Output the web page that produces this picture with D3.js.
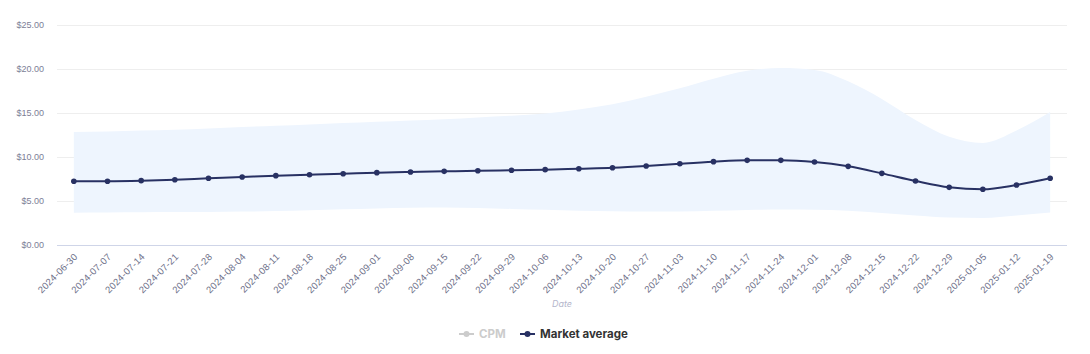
<!DOCTYPE html>
<html>
<head>
<meta charset="utf-8">
<script src="https://cdn.jsdelivr.net/npm/d3@7"></script>
<style>
  body { margin: 0; background: #fff; }
  svg { font-family: Inter, "Open Sans", sans-serif; display: block; }
</style>
</head>
<body>
<svg id="chart" width="1090" height="354"></svg>
<script>
// weekly dates
const dates = ["2024-06-30", "2024-07-07", "2024-07-14", "2024-07-21", "2024-07-28",
  "2024-08-04", "2024-08-11", "2024-08-18", "2024-08-25", "2024-09-01", "2024-09-08",
  "2024-09-15", "2024-09-22", "2024-09-29", "2024-10-06", "2024-10-13", "2024-10-20",
  "2024-10-27", "2024-11-03", "2024-11-10", "2024-11-17", "2024-11-24", "2024-12-01",
  "2024-12-08", "2024-12-15", "2024-12-22", "2024-12-29", "2025-01-05", "2025-01-12",
  "2025-01-19"];
const marketAvg = [7.24, 7.25, 7.31, 7.42, 7.58, 7.73, 7.88, 7.99, 8.1, 8.22, 8.3,
  8.37, 8.44, 8.49, 8.56, 8.67, 8.78, 8.98, 9.24, 9.47, 9.62, 9.62, 9.43, 8.94, 8.14,
  7.27, 6.55, 6.33, 6.82, 7.58];
const rangeLow = [3.67, 3.7, 3.72, 3.74, 3.76, 3.8, 3.85, 3.95, 4.05, 4.15, 4.22,
  4.25, 4.2, 4.1, 4.0, 3.9, 3.83, 3.8, 3.8, 3.88, 3.98, 4.02, 4.0, 3.9, 3.65, 3.35,
  3.12, 3.08, 3.35, 3.7];
const rangeHigh = [12.84, 12.9, 13.0, 13.1, 13.25, 13.4, 13.55, 13.7, 13.85, 14.0,
  14.15, 14.3, 14.5, 14.7, 14.95, 15.4, 16.0, 16.85, 17.8, 18.9, 19.8, 20.1, 19.9,
  18.6, 16.6, 14.2, 12.3, 11.6, 13.0, 15.1];
const yTicks = [0, 5, 10, 15, 20, 25];

let svg = d3.select("svg#chart");
const margin = { top: 25, left: 57, right: 23, bottom: 109 };
const width = svg.attr("width") - margin.left - margin.right;
const height = svg.attr("height") - margin.top - margin.bottom;

const rows = dates.map((d, i) => ({ date: d, avg: marketAvg[i], lo: rangeLow[i], hi: rangeHigh[i] }));

let xScale = d3.scaleBand().domain(dates).range([0, width]);
let yScale = d3.scaleLinear().domain([0, 25]).range([height, 0]);
const xc = (d) => xScale(d) + xScale.bandwidth() / 2;

let plot = svg.append("g").attr("transform", `translate(${margin.left},${margin.top})`);

// gridlines
let yGrid = d3.axisLeft(yScale).tickValues(yTicks).tickSize(-width).tickFormat("");
plot.append("g").call(yGrid)
  .call((g) => g.select(".domain").remove())
  .selectAll("line")
  .attr("stroke", (d) => (d === 0 ? "#cfd5e8" : "#eeeeee"));

// y labels
let yAxis = d3.axisLeft(yScale).tickValues(yTicks).tickSize(0).tickPadding(13)
  .tickFormat((v) => "$" + v.toFixed(2));
plot.append("g").call(yAxis)
  .call((g) => g.select(".domain").remove())
  .selectAll("text")
  .style("font-size", "9px")
  .attr("fill", "#7c7e96");

// range band
let band = d3.area()
  .x((d) => xc(d.date))
  .y0((d) => yScale(d.lo))
  .y1((d) => yScale(d.hi))
  .curve(d3.curveMonotoneX);
plot.append("path").datum(rows).attr("d", band).attr("fill", "#eef5fe");

// market average line
let line = d3.line()
  .x((d) => xc(d.date))
  .y((d) => yScale(d.avg))
  .curve(d3.curveMonotoneX);
plot.append("path").datum(rows).attr("d", line)
  .attr("fill", "none").attr("stroke", "#283163").attr("stroke-width", 2);
plot.selectAll("circle.pt").data(rows).join("circle")
  .attr("class", "pt")
  .attr("cx", (d) => xc(d.date))
  .attr("cy", (d) => yScale(d.avg))
  .attr("r", 2.8)
  .attr("fill", "#283163");

// x axis labels
let xAxis = d3.axisBottom(xScale).tickSize(0).tickPadding(0);
plot.append("g").attr("transform", `translate(0,${height})`).call(xAxis)
  .call((g) => g.select(".domain").remove())
  .selectAll("text")
  .style("font-size", "9.5px")
  .style("letter-spacing", "0.3px")
  .attr("fill", "#6e7089")
  .attr("text-anchor", "end")
  .attr("dy", "0.35em")
  .attr("transform", "translate(2,10) rotate(-45)");

// axis name
plot.append("text")
  .attr("x", width / 2)
  .attr("y", height + 62)
  .attr("text-anchor", "middle")
  .style("font-size", "9px")
  .style("font-style", "italic")
  .attr("fill", "#b4b6cc")
  .text("Date");

// legend
let legend = svg.append("g").attr("transform", "translate(0,334)");
const legendItems = [
  { label: "CPM", color: "#cccccc", text: "#cccccc", x: 459 },
  { label: "Market average", color: "#283163", text: "#333333", x: 520 },
];
legendItems.forEach((it) => {
  legend.append("line").attr("x1", it.x).attr("x2", it.x + 15)
    .attr("stroke", it.color).attr("stroke-width", 2);
  legend.append("circle").attr("cx", it.x + 7.5).attr("r", 3).attr("fill", it.color);
  legend.append("text").attr("x", it.x + 20).attr("dy", "0.35em")
    .style("font-size", "11.5px").style("font-weight", "bold")
    .attr("fill", it.text).text(it.label);
});
</script>
</body>
</html>
